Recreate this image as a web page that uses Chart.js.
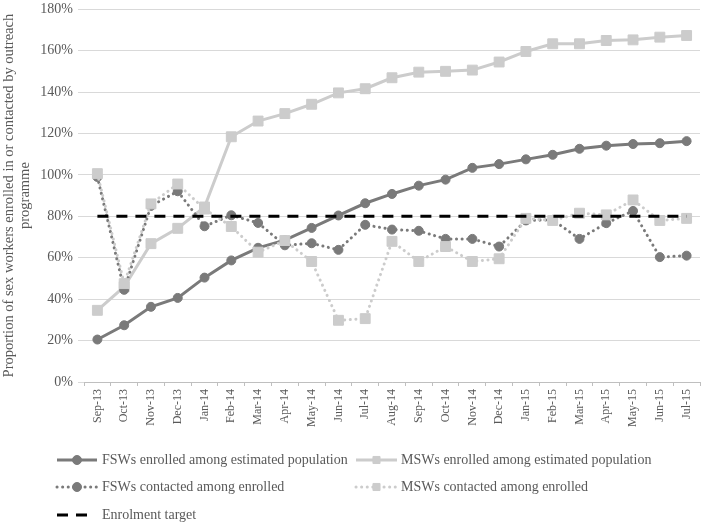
<!DOCTYPE html>
<html>
<head>
<meta charset="utf-8">
<script src="https://cdn.jsdelivr.net/npm/chart.js@4/dist/chart.umd.min.js"></script>
<style>
  html,body{margin:0;padding:0;background:#fff;}
  #wrap{width:708px;height:525px;position:relative;}
</style>
</head>
<body>
<div id="wrap"><canvas id="c" width="708" height="525"></canvas></div>
<script>
// ── DATA (percent) ─────────────────────────────────
const months = ['Sep-13','Oct-13','Nov-13','Dec-13','Jan-14','Feb-14','Mar-14','Apr-14','May-14','Jun-14','Jul-14','Aug-14',
  'Sep-14','Oct-14','Nov-14','Dec-14','Jan-15','Feb-15','Mar-15','Apr-15','May-15','Jun-15','Jul-15'];
const fswEnrolled  = [20.5,27.4,36.3,40.6,50.4,58.7,64.8,68.5,74.4,80.4,86.3,90.8,94.8,97.7,103.4,105.2,107.5,109.7,112.6,114.1,114.9,115.3,116.3];
const mswEnrolled  = [34.6,46,66.8,74.2,84.5,118.4,126,129.6,134.1,139.6,141.6,146.9,149.6,150,150.6,154.5,159.6,163.3,163.3,164.9,165.2,166.5,167.3];
const fswContacted = [99,44.5,85,92.1,75.2,80.5,76.8,66,67,63.8,75.9,73.6,73,69.1,69.1,65.4,78,78.3,69.1,76.7,82.6,60.3,61];
const mswContacted = [100.6,47.5,86,95.6,83.5,75.1,62.7,68.3,58.2,29.8,30.6,67.9,58.2,65.4,58.2,59.5,79,78,81.5,80.7,87.9,78,79];
const target       = [80,80,80,80,80,80,80,80,80,80,80,80,80,80,80,80,80,80,80,80,80,80,80];
const yTicks = [0,20,40,60,80,100,120,140,160,180];

// ── ESTILO ─────────────────────────────────────────
const SERIF = '"Liberation Serif","Times New Roman",serif';
const TXT = '#595959';
const DARK = '#7a7a7a', LIGHT = '#cccccc';

const mk = (label, data, color, o={}) => ({
  label, data, borderColor:color, backgroundColor:color,
  pointBackgroundColor:color, pointBorderColor:color, pointBorderWidth:1,
  borderWidth:3, tension:0, fill:false, ...o,
});

const datasets = [
  mk('FSWs enrolled among estimated population', fswEnrolled, DARK, {pointStyle:'circle', pointRadius:4.5, order:5}),
  mk('MSWs enrolled among estimated population', mswEnrolled, LIGHT, {pointStyle:'rect', pointRadius:7, order:4}),
  mk('FSWs contacted among enrolled', fswContacted, DARK, {pointStyle:'circle', pointRadius:4.5, borderDash:[0.1,5.5], borderCapStyle:'round', order:3}),
  mk('MSWs contacted among enrolled', mswContacted, LIGHT, {pointStyle:'rect', pointRadius:7, borderDash:[0.1,5.5], borderCapStyle:'round', order:2}),
  mk('Enrolment target', target, '#000000', {pointRadius:0, borderDash:[11,8], order:1}),
];

// legend: 2 columns, 3 rows, drawn under the axis
const LEG = [
  {i:0, x:57,  tx:102, y:460, w:40},
  {i:1, x:356, tx:401, y:460, w:41},
  {i:2, x:57,  tx:102, y:487, w:40},
  {i:3, x:356, tx:401, y:487, w:41},
  {i:4, x:57,  tx:102, y:515, w:35},
];
const legendPlugin = {
  id:'legend2',
  afterDraw(chart){
    const ctx = chart.ctx;
    ctx.save();
    LEG.forEach(it => {
      const ds = chart.data.datasets[it.i];
      ctx.strokeStyle = ds.borderColor; ctx.fillStyle = ds.borderColor;
      ctx.lineWidth = ds.borderWidth;
      ctx.lineCap = ds.borderCapStyle || 'butt';
      ctx.setLineDash(ds.borderDash || []);
      ctx.beginPath(); ctx.moveTo(it.x, it.y); ctx.lineTo(it.x + it.w, it.y); ctx.stroke();
      ctx.setLineDash([]); ctx.lineCap = 'butt';
      if (ds.pointRadius > 0) {
        ctx.lineWidth = 1;
        Chart.helpers.drawPoint(ctx, {pointStyle:ds.pointStyle, radius:ds.pointStyle==='rect'?5:4.5, rotation:0, borderWidth:1}, it.x + it.w/2, it.y);
      }
      ctx.fillStyle = TXT; ctx.font = '14px ' + SERIF;
      ctx.textBaseline = 'middle'; ctx.textAlign = 'left';
      ctx.fillText(ds.label, it.tx, it.y);
    });
    ctx.restore();
  }
};

new Chart(document.getElementById('c'), {
  type:'line',
  data:{labels:months, datasets},
  plugins:[legendPlugin],
  options:{
    responsive:false, animation:false,
    layout:{padding:{left:0, right:3, top:0, bottom:84}},
    plugins:{legend:{display:false}, tooltip:{enabled:false}},
    scales:{
      x:{
        offset:true,
        grid:{offset:true, drawOnChartArea:false, drawTicks:true, tickLength:4, color:'#bfbfbf'},
        border:{display:true, color:'#bfbfbf', width:1},
        ticks:{autoSkip:false, maxRotation:90, minRotation:90, padding:3, color:TXT, font:{family:SERIF, size:12}},
        afterFit: s => { s.height = 59; },
      },
      y:{
        min:0, max:180,
        afterBuildTicks: s => { s.ticks = yTicks.map(v => ({value:v})); },
        grid:{color:'#d9d9d9', lineWidth:1, drawTicks:true, tickLength:6},
        border:{display:false},
        ticks:{padding:5, color:TXT, font:{family:SERIF, size:14, lineHeight:0.6}, callback:v => v + '%'},
        title:{display:true, text:['Proportion of sex workers enrolled in or contacted by outreach','programme'],
          color:TXT, font:{family:SERIF, size:14.5, lineHeight:1.05}, padding:{top:2, bottom:0}},
        afterFit: s => { s.width = 84; },
      },
    },
  },
});
</script>
</body>
</html>
